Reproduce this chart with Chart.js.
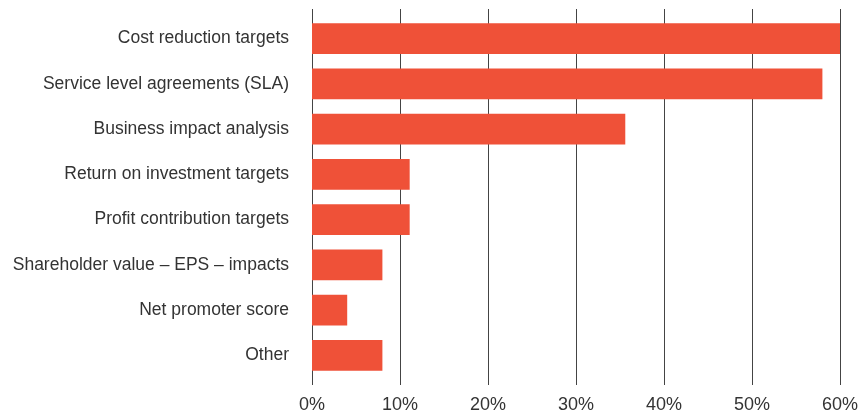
<!DOCTYPE html>
<html>
<head>
<meta charset="utf-8">
<script src="https://cdn.jsdelivr.net/npm/chart.js@4/dist/chart.umd.min.js"></script>
<style>
  html, body { margin: 0; padding: 0; background: #ffffff; }
  #wrap { width: 864px; height: 410px; position: relative; }
</style>
</head>
<body>
<div id="wrap"><canvas id="c" width="864" height="410"></canvas></div>
<script>
const categories = [
  "Cost reduction targets",
  "Service level agreements (SLA)",
  "Business impact analysis",
  "Return on investment targets",
  "Profit contribution targets",
  "Shareholder value \u2013 EPS \u2013 impacts",
  "Net promoter score",
  "Other"
];
const values = [60, 58, 35.6, 11.1, 11.1, 8, 4, 8];
const xTicks = [0, 10, 20, 30, 40, 50, 60];

const gridPlugin = {
  id: 'extGrid',
  beforeDatasetsDraw(chart) {
    const ctx = chart.ctx;
    const xs = chart.scales.x;
    const area = chart.chartArea;
    ctx.save();
    ctx.strokeStyle = '#444444';
    ctx.lineWidth = 1;
    xTicks.forEach(v => {
      const px = Math.round(xs.getPixelForValue(v)) + 0.5;
      ctx.beginPath();
      ctx.moveTo(px, area.top - 7);
      ctx.lineTo(px, area.bottom + 7);
      ctx.stroke();
    });
    ctx.restore();
  }
};

new Chart(document.getElementById('c'), {
  type: 'bar',
  data: {
    labels: categories,
    datasets: [{
      data: values,
      backgroundColor: '#EF5138',
      borderWidth: 0,
      categoryPercentage: 1,
      barPercentage: 0.685
    }]
  },
  options: {
    indexAxis: 'y',
    responsive: false,
    animation: false,
    devicePixelRatio: 1,
    layout: { padding: { top: 16, right: 24, bottom: 0, left: 0 } },
    plugins: { legend: { display: false }, tooltip: { enabled: false } },
    scales: {
      x: {
        min: 0, max: 60,
        afterBuildTicks(scale) { scale.ticks = xTicks.map(v => ({ value: v })); },
        afterFit(scale) { scale.height = 32; scale.paddingLeft = 0; scale.paddingRight = 0; },
        grid: { display: false },
        border: { display: false },
        ticks: {
          padding: 8,
          color: '#333333',
          font: { family: 'Liberation Sans', size: 18 },
          callback: v => v + '%',
          maxRotation: 0
        }
      },
      y: {
        afterFit(scale) { scale.width = 312; scale.paddingTop = 0; scale.paddingBottom = 0; },
        grid: { display: false, drawTicks: false },
        border: { display: false },
        ticks: {
          padding: 23,
          color: '#333333',
          font: { family: 'Liberation Sans', size: 17.5 }
        }
      }
    }
  },
  plugins: [gridPlugin]
});
</script>
</body>
</html>
